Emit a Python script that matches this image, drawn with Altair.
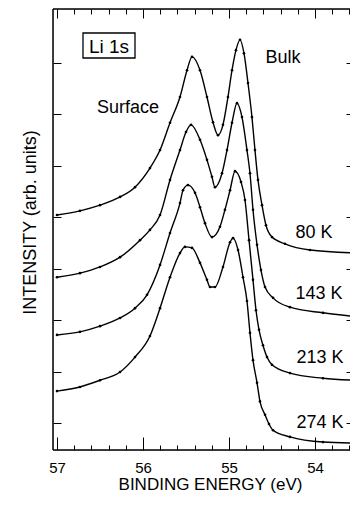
import altair as alt
import pandas as pd

# ---- data (binding energy in eV, intensity in arb. units, curves offset) ----
energy_80K = [57.000, 56.733, 56.500, 56.267, 56.093, 55.919, 55.802, 55.686, 55.570, 55.488,
              55.430, 55.337, 55.256, 55.186, 55.128, 55.070, 55.012, 54.965, 54.919, 54.872,
              54.826, 54.779, 54.733, 54.698, 54.663, 54.616, 54.570, 54.500, 54.349, 54.058, 53.500]
intensity_80K = [5.04, 5.12, 5.23, 5.39, 5.58, 5.95, 6.30, 6.83, 7.33, 7.85,
                 8.11, 7.85, 7.33, 6.84, 6.59, 6.79, 7.33, 7.85, 8.24, 8.44,
                 8.18, 7.60, 6.94, 6.30, 5.72, 5.23, 4.84, 4.61, 4.48, 4.36, 4.30]

energy_143K = [57.000, 56.733, 56.500, 56.267, 56.035, 55.919, 55.802, 55.686, 55.570, 55.500,
               55.442, 55.337, 55.256, 55.198, 55.163, 55.081, 55.023, 54.965, 54.907, 54.849,
               54.791, 54.756, 54.721, 54.674, 54.628, 54.581, 54.488, 54.291, 53.907, 53.500]
intensity_143K = [3.83, 3.91, 4.03, 4.22, 4.55, 4.75, 5.04, 5.72, 6.30, 6.65,
                  6.79, 6.50, 6.11, 5.78, 5.58, 5.85, 6.30, 6.83, 7.21, 6.94,
                  6.30, 5.85, 5.14, 4.46, 3.97, 3.64, 3.43, 3.25, 3.14, 3.06]

energy_213K = [57.000, 56.733, 56.500, 56.267, 56.093, 55.953, 55.802, 55.686, 55.570, 55.535,
               55.477, 55.395, 55.337, 55.279, 55.198, 55.105, 55.047, 54.988, 54.930, 54.860,
               54.814, 54.767, 54.721, 54.686, 54.651, 54.605, 54.558, 54.500, 54.291, 53.907, 53.500]
intensity_213K = [2.71, 2.77, 2.88, 3.04, 3.23, 3.49, 4.07, 4.69, 5.27, 5.52,
                  5.62, 5.47, 5.19, 4.88, 4.61, 4.81, 5.14, 5.52, 5.89, 5.68,
                  5.33, 4.55, 3.78, 3.19, 2.81, 2.51, 2.28, 2.13, 1.97, 1.87, 1.83]

energy_274K = [57.000, 56.733, 56.500, 56.267, 56.093, 55.919, 55.802, 55.686, 55.570, 55.512,
               55.430, 55.337, 55.256, 55.221, 55.163, 55.070, 54.988, 54.953, 54.895, 54.837,
               54.791, 54.756, 54.721, 54.674, 54.640, 54.581, 54.535, 54.488, 54.291, 53.907, 53.500]
intensity_274K = [1.62, 1.70, 1.83, 1.99, 2.28, 2.69, 3.23, 3.83, 4.30, 4.42,
                  4.40, 4.11, 3.78, 3.64, 3.64, 4.03, 4.51, 4.59, 4.36, 3.83,
                  3.37, 2.75, 2.22, 1.78, 1.42, 1.16, 0.98, 0.86, 0.73, 0.63, 0.61]

curve_labels = ["80 K", "143 K", "213 K", "274 K"]
major_x_ticks = [57, 56, 55, 54]
minor_x_ticks = [56.8, 56.6, 56.4, 56.2, 55.8, 55.6, 55.4, 55.2, 54.8, 54.6, 54.4, 54.2, 53.8, 53.6]
y_ticks = [1, 2, 3, 4, 5, 6, 7, 8]

rows = []
for lab, es, vs in zip(curve_labels,
                       [energy_80K, energy_143K, energy_213K, energy_274K],
                       [intensity_80K, intensity_143K, intensity_213K, intensity_274K]):
    for i, (e, v) in enumerate(zip(es, vs)):
        rows.append({"curve": lab, "E": e, "I": v, "idx": i})
df = pd.DataFrame(rows)
one = pd.DataFrame({"a": [0]})

W, H = 297, 441
FONT = "Liberation Sans"
xs = alt.Scale(domain=[57.0465, 53.593], nice=False, zero=False)
ys = alt.Scale(domain=[0.476, 9.039], nice=False, zero=False)

lines = alt.Chart(df).mark_line(color="black", strokeWidth=1.4, clip=True, interpolate="monotone").encode(
    x=alt.X("E:Q", scale=xs, axis=alt.Axis(
        orient="bottom", values=major_x_ticks, offset=-13, tickSize=13, tickColor="black", tickWidth=1,
        domain=False, grid=False, labelFontSize=15, labelColor="black", labelFont=FONT, labelPadding=10,
        labelFlush=False, format="d",
        title="BINDING ENERGY (eV)", titleFontSize=17, titleFontWeight="normal", titleFont=FONT,
        titleColor="black", titleX=157, titleY=52, titleBaseline="alphabetic", titleAlign="center")),
    y=alt.Y("I:Q", scale=ys, axis=alt.Axis(
        orient="left", values=y_ticks, offset=-8, tickSize=8, tickColor="black", tickWidth=1,
        domain=False, grid=False, labels=False,
        title="INTENSITY (arb. units)", titleFontSize=18, titleFontWeight="normal", titleFont=FONT,
        titleColor="black", titleAngle=-90, titleX=-26, titleY=213, titleBaseline="alphabetic",
        titleAlign="center")),
    detail="curve:N",
    order="idx:Q",
)

points = alt.Chart(df).mark_point(filled=True, size=7, color="black", opacity=1, clip=True).encode(
    x=alt.X("E:Q", scale=xs, axis=None),
    y=alt.Y("I:Q", scale=ys, axis=None),
)

def xaxis_layer(orient, vals, length):
    return alt.Chart(df).mark_point(opacity=0).encode(
        x=alt.X("E:Q", scale=xs, axis=alt.Axis(
            orient=orient, values=vals, offset=-length, tickSize=length, tickColor="black",
            tickWidth=1, labels=False, domain=False, grid=False, title=None)))

bottom_minor = xaxis_layer("bottom", minor_x_ticks, 5)
top_major = xaxis_layer("top", major_x_ticks, 9)
top_minor = xaxis_layer("top", minor_x_ticks, 5)
right_major = alt.Chart(df).mark_point(opacity=0).encode(
    y=alt.Y("I:Q", scale=ys, axis=alt.Axis(
        orient="right", values=y_ticks, offset=-4, tickSize=4, tickColor="black",
        tickWidth=1, labels=False, domain=False, grid=False, title=None)))

frame_left = alt.Chart(one).mark_rule(color="black", strokeWidth=1.5).encode(
    x=alt.value(0), y=alt.value(0), y2=alt.value(H))
frame_top = alt.Chart(one).mark_rule(color="black", strokeWidth=1.5).encode(
    x=alt.value(0), x2=alt.value(W), y=alt.value(0))
frame_bottom = alt.Chart(one).mark_rule(color="black", strokeWidth=1.5).encode(
    x=alt.value(0), x2=alt.value(W), y=alt.value(H))

box = alt.Chart(one).mark_rect(fill="white", stroke="black", strokeWidth=1.3).encode(
    x=alt.value(30), x2=alt.value(82), y=alt.value(24), y2=alt.value(49))

def label(txt, x, y, size=18, align="center"):
    return alt.Chart(one).mark_text(text=txt, font=FONT, fontSize=size, color="black",
                                    align=align, baseline="alphabetic").encode(
        x=alt.value(x), y=alt.value(y))

texts = [
    label("Li 1s", 56, 44, size=19),
    label("Bulk", 230, 54),
    label("Surface", 75, 104),
    label(curve_labels[0], 261, 229),
    label(curve_labels[1], 266, 290),
    label(curve_labels[2], 267, 354),
    label(curve_labels[3], 267, 419),
]

chart = alt.layer(
    lines, points, bottom_minor, top_major, top_minor, right_major,
    frame_left, frame_top, frame_bottom, box, *texts
).resolve_axis(x="independent", y="independent").properties(
    width=W, height=H,
    autosize=alt.AutoSizeParams(type="none"),
    padding={"left": 45, "top": 1, "right": 0, "bottom": 44},
).configure_view(stroke=None).configure(background="white")

chart.save("out.html", embed_options={"renderer": "svg", "actions": False})
